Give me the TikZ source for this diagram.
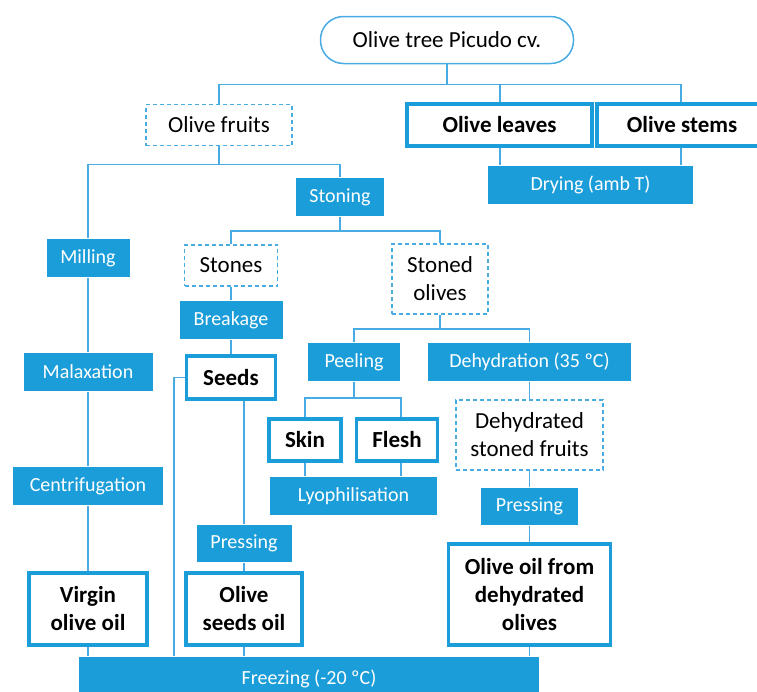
\documentclass[tikz,border=0pt]{standalone}
\usepackage{fontspec}
\setmainfont{Carlito}
\usetikzlibrary{positioning}
\definecolor{procblue}{RGB}{27,157,217}
\definecolor{lineblue}{RGB}{72,172,226}

\begin{document}
\begin{tikzpicture}
[x=1pt, y=-1pt, line width=1.5pt, draw=lineblue,
proc/.style={rectangle, fill=procblue, draw=none, inner sep=0pt, text=white, font=\fontsize{20}{24}\selectfont},
prod/.style={rectangle, draw=procblue, line width=3.5pt, fill=white, inner sep=0pt, align=center, font=\fontsize{23}{28}\selectfont\bfseries},
inter/.style={rectangle, draw=lineblue, dash pattern=on 4pt off 3pt, inner sep=0pt, align=center, font=\fontsize{23}{28}\selectfont},
root/.style={rectangle, draw=lineblue, rounded corners=23pt, inner sep=0pt, font=\fontsize{23}{28}\selectfont}]

\useasboundingbox (0,0) rectangle (757,691);

% top level
\node[root, minimum width=253, minimum height=47] (tree) at (447,40) {Olive tree Picudo cv.};
\node[inter, minimum width=146, minimum height=41] (fruits) at (219,125) {Olive fruits};
\node[prod, minimum width=185, minimum height=42] (leaves) at (499.5,125) {Olive leaves};
\node[prod, minimum width=170, minimum height=42] (stems) at (682,125) {Olive stems};
\node[proc, minimum width=205, minimum height=38] (drying) at (590.5,185) {Drying (amb T)};

% virgin olive oil
\node[proc, minimum width=83, minimum height=38] (milling) at (88,258) {Milling};
\node[proc, minimum width=129, minimum height=38] (malax) at (88,372) {Malaxation};
\node[proc, minimum width=150, minimum height=38] (centri) at (88,486) {Centrifugation};
\node[prod, minimum width=118, minimum height=72] (virgin) at (88,609) {Virgin\\olive oil};

% stoning
\node[proc, minimum width=88, minimum height=38] (stoning) at (340,197) {Stoning};
\node[inter, minimum width=93, minimum height=41] (stones) at (231,265.5) {Stones};
\node[inter, minimum width=96, minimum height=70] (stoned) at (440,279) {Stoned\\olives};

% seeds
\node[proc, minimum width=103, minimum height=38] (breakage) at (231,320) {Breakage};
\node[prod, minimum width=89, minimum height=43] (seeds) at (231,377.5) {Seeds};
\node[proc, minimum width=95, minimum height=37] (presss) at (244,543.5) {Pressing};
\node[prod, minimum width=116, minimum height=72] (seedsoil) at (244,609) {Olive\\seeds oil};

% stoned olives
\node[proc, minimum width=92, minimum height=38] (peeling) at (354,362) {Peeling};
\node[proc, minimum width=203, minimum height=38] (dehyd) at (529.5,362) {Dehydration (35 ºC)};
\node[prod, minimum width=72, minimum height=42] (skin) at (305,440) {Skin};
\node[prod, minimum width=81, minimum height=42] (flesh) at (397,440) {Flesh};
\node[proc, minimum width=167, minimum height=38] (lyo) at (353.5,496) {Lyophilisation};
\node[inter, minimum width=147, minimum height=70] (dstoned) at (529.5,435) {Dehydrated\\stoned fruits};
\node[proc, minimum width=97, minimum height=37] (pressd) at (529.5,506.5) {Pressing};
\node[prod, minimum width=162, minimum height=101] (ddoil) at (529.5,594.5) {Olive oil from\\dehydrated\\olives};

\node[proc, minimum width=460, minimum height=43] (freezing) at (309,678.5) {Freezing (-20 ºC)};

% connectors
\draw (tree.south) -- ++(0,20) -| (fruits.north);
\draw (tree.south) -- ++(0,20) -| ([xshift=0.5pt]leaves.north);
\draw (tree.south) -- ++(0,20) -| ([xshift=-1pt]stems.north);
\draw ([xshift=0.5pt]leaves.south) -- ([xshift=0.5pt]leaves.south |- drying.north);
\draw ([xshift=-1pt]stems.south) -- ([xshift=-1pt]stems.south |- drying.north);

\draw (fruits.south) -- ++(0,18) -| (milling.north);
\draw (fruits.south) -- ++(0,18) -| (stoning.north);
\draw (milling) -- (malax);
\draw (malax) -- (centri);
\draw (centri) -- (virgin);

\draw (stoning.south) -- ++(0,14) -| (stones.north);
\draw (stoning.south) -- ++(0,14) -| (stoned.north);
\draw (stones) -- (breakage);
\draw (breakage) -- (seeds);
\draw (seeds.west) -- ++(-11,0) coordinate (seedsbend) -- (seedsbend |- freezing.north);
\draw (presss.north |- seeds.south) -- (presss.north);
\draw (presss) -- (seedsoil);

\draw (stoned.south) -- ++(0,14) -| (peeling.north);
\draw (stoned.south) -- ++(0,14) -| (dehyd.north);
\draw (peeling.south) -- ++(0,16) -| (skin.north);
\draw (peeling.south) -- ++(0,16) -| ([xshift=4pt]flesh.north);
\draw (skin.south) -- (skin.south |- lyo.north);
\draw ([xshift=4pt]flesh.south) -- ([xshift=4pt]flesh.south |- lyo.north);
\draw (dehyd) -- (dstoned);
\draw (dstoned) -- (pressd);
\draw (pressd) -- (ddoil);

\draw (virgin.south) -- (virgin.south |- freezing.north);
\draw (seedsoil.south) -- (seedsoil.south |- freezing.north);
\draw (ddoil.south) -- (ddoil.south |- freezing.north);
\end{tikzpicture}
\end{document}
